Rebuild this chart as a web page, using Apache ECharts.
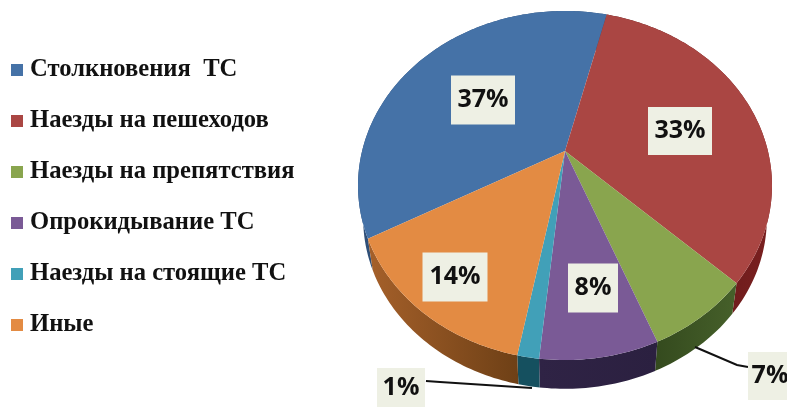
<!DOCTYPE html>
<html>
<head>
<meta charset="utf-8">
<title>ДТП</title>
<style>
    html, body { margin: 0; padding: 0; background: #fff; }
    #chart { width: 787px; height: 407px; }
</style>
<script src="https://cdn.jsdelivr.net/npm/echarts@6/dist/echarts.min.js"></script>
</head>
<body>
<div id="chart"></div>
<script>
// данные диаграммы
var categories = ['Столкновения  ТС', 'Наезды на пешеходов', 'Наезды на препятствия', 'Опрокидывание ТС', 'Наезды на стоящие ТС', 'Иные'];
var values = [36.8, 33, 7, 7.7, 1.4, 14.1];

// цвета
var topColors = ['#4572a7', '#aa4643', '#89a54e', '#7a5a96', '#41a0b8', '#e38b43'];
var wallColors = [
    ['#2f4f78', '#2f4f78'],
    ['#7a2020', '#4f1010'],
    ['#46602a', '#344a1e'],
    ['#2b2040', '#2f2345'],
    ['#15505f', '#15505f'],
    ['#6e4016', '#a5602a']
];

// подписи: центр прямоугольника и его размер
var labelBoxes = [
    { x: 483, y: 100, w: 64, h: 49 },
    { x: 680, y: 131, w: 64, h: 48 },
    { x: 770, y: 376, w: 44, h: 48 },
    { x: 593, y: 288, w: 50, h: 49 },
    { x: 401, y: 388, w: 48, h: 40 },
    { x: 455, y: 277, w: 65, h: 49 }
];
var leaderLines = [
    null, null,
    [[695, 347], [737, 365], [748, 367]],
    null,
    [[532, 388], [440, 382], [426, 381]],
    null
];

// геометрия наклонного круга
var apexX = 565, apexY = 151;
var scaleX = 202.9, scaleY = 167.7, tilt = 0.1977;
var depth = 34, bottomScale = 0.975;
var startAngle = 241.7;

function rimPoint(deg, isBottom) {
    var a = deg * Math.PI / 180;
    var u = Math.sin(a), v = Math.cos(a);
    var w = 1 + tilt * v;
    var s = isBottom ? bottomScale : 1;
    return [apexX + s * scaleX * u / w, apexY - s * scaleY * v / w + (isBottom ? depth : 0)];
}

function arcPoints(from, to, isBottom) {
    var pts = [];
    for (var d = from; d < to; d += 1) pts.push(rimPoint(d, isBottom));
    pts.push(rimPoint(to, isBottom));
    return pts;
}

var total = values.reduce(function(a, b) { return a + b; }, 0);
var angles = [];
var acc = startAngle;
values.forEach(function(val) {
    var sweep = val / total * 360;
    angles.push([acc, acc + sweep]);
    acc += sweep;
});

function renderSlice(index) {
    return function() {
        var from = angles[index][0], to = angles[index][1];
        var top = arcPoints(from, to, false);
        var bottom = arcPoints(from, to, true).reverse();
        var box = labelBoxes[index];
        var children = [{
            type: 'polygon',
            z2: 1,
            shape: { points: top.concat(bottom) },
            style: {
                fill: new echarts.graphic.LinearGradient(0, 0, 1, 0, [
                    { offset: 0, color: wallColors[index][1] },
                    { offset: 1, color: wallColors[index][0] }
                ])
            }
        }, {
            type: 'polygon',
            z2: 10,
            shape: { points: [[apexX, apexY]].concat(top) },
            style: { fill: topColors[index] }
        }];
        if (leaderLines[index]) {
            children.push({
                type: 'polyline',
                z2: 20,
                shape: { points: leaderLines[index] },
                style: { stroke: '#111', lineWidth: 2, fill: 'none' }
            });
        }
        children.push({
            type: 'rect',
            z2: 30,
            shape: { x: box.x - box.w / 2, y: box.y - box.h / 2, width: box.w, height: box.h },
            style: { fill: '#eef0e4' }
        }, {
            type: 'text',
            z2: 31,
            x: box.x,
            y: box.y,
            style: {
                text: Math.round(values[index]) + '%',
                fill: '#111',
                font: '700 25px "Open Sans"',
                align: 'center',
                verticalAlign: 'middle'
            }
        });
        return { type: 'group', children: children };
    };
}

var myChart = echarts.init(document.getElementById('chart'));

var options = {
    animation: false,
    legend: {
        orient: 'vertical',
        left: 6,
        top: 50,
        icon: 'rect',
        itemWidth: 12,
        itemHeight: 12,
        itemGap: 21,
        selectedMode: false,
        data: categories,
        textStyle: {
            fontFamily: 'Liberation Serif',
            fontWeight: 'bold',
            fontSize: 24.6,
            lineHeight: 30,
            padding: [0, 0, 0, 2],
            color: '#111'
        }
    },
    series: categories.map(function(name, i) {
        return {
            type: 'custom',
            name: name,
            coordinateSystem: 'none',
            silent: true,
            itemStyle: { color: topColors[i] },
            data: [values[i]],
            renderItem: renderSlice(i)
        };
    })
};
myChart.setOption(options);
</script>
</body>
</html>
